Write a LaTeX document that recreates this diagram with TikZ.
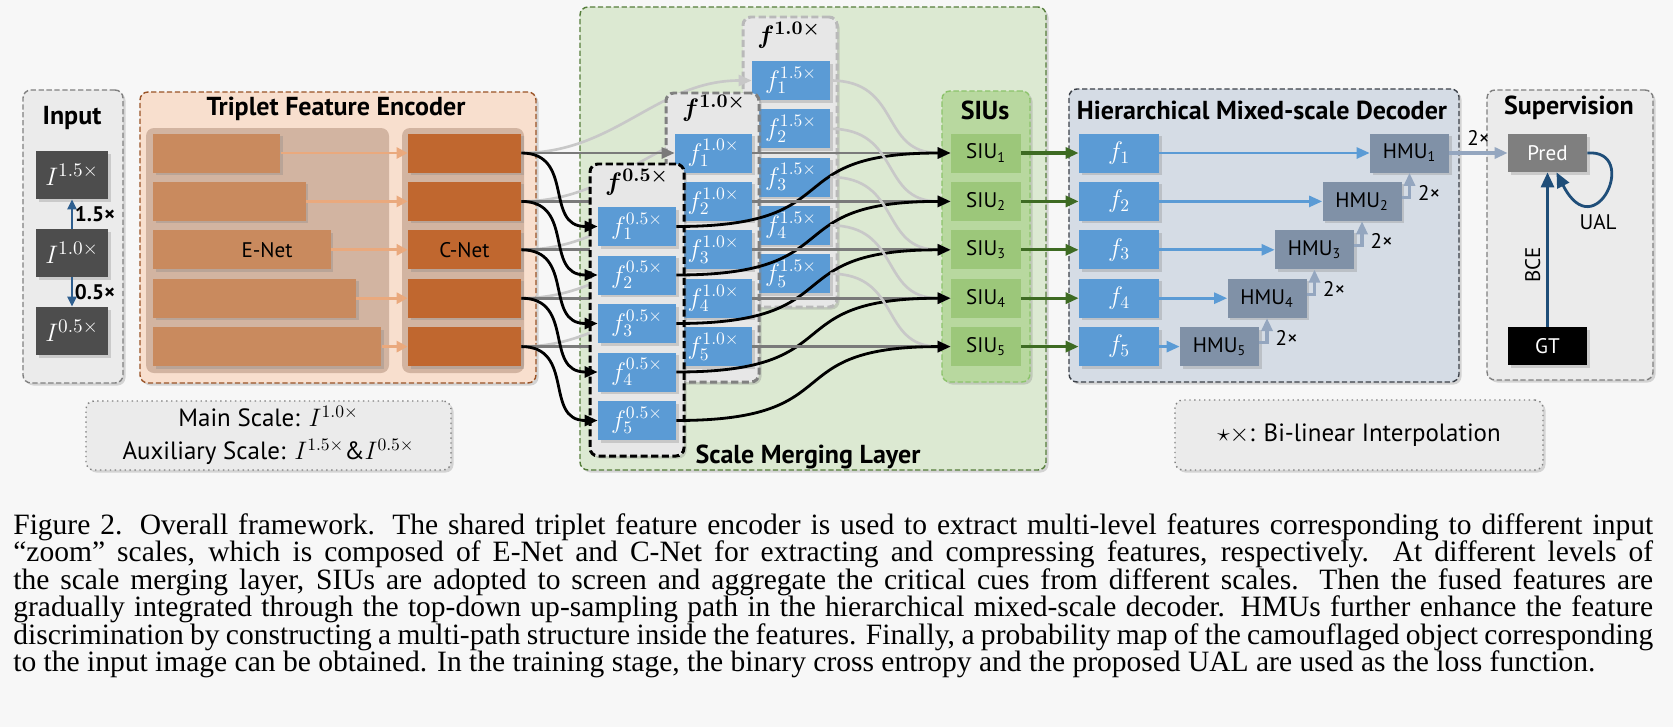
\documentclass[tikz,border=0pt]{standalone}
\usepackage{fontspec}
\setmainfont{Liberation Serif}
\setsansfont{PT Sans}
\usetikzlibrary{arrows.meta,shadows,positioning}

\definecolor{bgc}{HTML}{F7F7F7}
\definecolor{panelgray}{HTML}{EBEBEB}
\definecolor{inputdark}{HTML}{4D4D4D}
\definecolor{inarrow}{HTML}{2F5F8F}
\definecolor{encfill}{HTML}{F8DFCE}
\definecolor{encline}{HTML}{9A5326}
\definecolor{encinner}{HTML}{D2B4A1}
\definecolor{ebar}{HTML}{C98A5E}
\definecolor{cbar}{HTML}{C0672F}
\definecolor{ecarrow}{HTML}{EAA97D}
\definecolor{smlfill}{HTML}{DCE9D2}
\definecolor{smlline}{HTML}{557D3A}
\definecolor{featblue}{HTML}{5B9BD5}
\definecolor{colfill}{HTML}{E7E7E7}
\definecolor{midgray}{HTML}{7A7A7A}
\definecolor{palegray}{HTML}{C8C8C8}
\definecolor{siufill}{HTML}{B8D89F}
\definecolor{siuline}{HTML}{8CC36B}
\definecolor{siubox}{HTML}{9CC77A}
\definecolor{siuarrow}{HTML}{3E6B23}
\definecolor{decfill}{HTML}{D5DCE5}
\definecolor{decline}{HTML}{3B4048}
\definecolor{hmufill}{HTML}{8091A7}
\definecolor{uparrow}{HTML}{94A6BF}
\definecolor{predfill}{HTML}{7F7F7F}
\definecolor{lossblue}{HTML}{1F4E79}

\tikzset{
  sz/.style 2 args={minimum width=#1*0.02cm, minimum height=#2*0.02cm, inner sep=0pt},
  panel/.style 2 args={sz={#1}{#2}, rounded corners=0.16cm, line width=0.8pt, dash pattern=on 3pt off 1.5pt, soft},
  col/.style={line width=1.7pt, dash pattern=on 4pt off 2pt},
  note/.style 2 args={sz={#1}{#2}, rounded corners=0.16cm, line width=0.8pt, dotted, draw=gray, fill=panelgray, soft, align=center, font={\sffamily\fontsize{14.2}{16}\selectfont}},
  soft/.style={drop shadow={shadow xshift=0.05cm, shadow yshift=-0.05cm, opacity=0.3}},
  title/.style={font={\sffamily\bfseries\fontsize{14.8}{17}\selectfont}},
  lbl/.style={font={\sffamily\fontsize{12}{14}\selectfont}},
  head/.style={font={\fontsize{15}{17}\selectfont\boldmath}},
  img/.style={sz={72}{48}, fill=inputdark, text=white, soft, font={\fontsize{15}{17}\selectfont}},
  feat/.style={sz={78}{39}, fill=featblue, text=white, soft, font={\fontsize{14}{16}\selectfont}},
  siu/.style={sz={70}{39}, fill=siubox, lbl},
  hmu/.style={sz={79}{39}, fill=hmufill, soft, lbl},
  tip/.style={-{Triangle[length=0.26cm, width=0.22cm]}},
  inarr/.style={draw=inarrow, line width=1.4pt, -{Triangle[length=0.2cm, width=0.18cm]}},
  ecarr/.style={draw=ecarrow, line width=1.5pt, -{Triangle[length=0.22cm, width=0.22cm]}},
  midline/.style={draw=midgray, line width=1.5pt, tip},
  paleline/.style={draw=palegray, line width=1.5pt, tip},
  blkcurve/.style={draw=black, line width=1.6pt, tip},
  siuarr/.style={draw=siuarrow, line width=1.8pt, tip},
  decarr/.style={draw=featblue, line width=1.5pt, tip},
  uparr/.style={draw=uparrow, line width=1.8pt, tip},
  lossarr/.style={draw=lossblue, line width=1.6pt, -{Triangle[length=0.3cm, width=0.26cm]}}
}

\begin{document}
\begin{tikzpicture}[x=0.02cm, y=-0.02cm]

\useasboundingbox (0,0) rectangle (1673,727);
\fill[bgc] (0,0) rectangle (1673,727);

\node[panel={100}{293}, fill=panelgray, draw=gray] (inputbox) at (73,236.5) {};
\node[title] (inputtitle) at (72,118) {Input};
\node[img] (in15) at (72,175) {$I^{1.5\times}$};
\node[img] (in10) at (72,253) {$I^{1.0\times}$};
\node[img] (in05) at (72,331) {$I^{0.5\times}$};
\draw[inarr] (in10) -- node[lbl, font={\sffamily\bfseries\fontsize{12}{14}\selectfont}, right, inner sep=1pt] {1.5×} (in15);
\draw[inarr] (in10) -- node[lbl, font={\sffamily\bfseries\fontsize{12}{14}\selectfont}, right, inner sep=1pt] {0.5×} (in05);

\node[panel={396}{291}, fill=encfill, draw=encline] (encbox) at (338,237.5) {};
\node[title] (enctitle) at (336,109) {Triplet Feature Encoder};
\node[sz={243}{245}, fill=encinner, rounded corners=0.16cm] (epanel) at (267.5,250.5) {};
\node[sz={122}{245}, fill=encinner, rounded corners=0.16cm] (cpanel) at (463,250.5) {};
\foreach \i in {1,...,5}
{
    \pgfmathsetmacro\ry{153+48.4*(\i-1)}
    \pgfmathsetmacro\ew{127+25.25*(\i-1)}
    \node[sz={\ew}{39}, fill=ebar, soft, anchor=west] (enet_\i) at (153,\ry) {};
    \node[sz={113}{39}, fill=cbar, soft] (cnet_\i) at (464.5,\ry) {};
    \draw[ecarr] (enet_\i) -- (cnet_\i);
}
\node[lbl] (enetlabel) at (267,250) {E-Net};
\node[lbl] (cnetlabel) at (cnet_3) {C-Net};

\node[note={365}{69}] (scalenote) at (268.5,435.5) {Main Scale: $I^{1.0\times}$\\[3pt]Auxiliary Scale: $I^{1.5\times}$\&$I^{0.5\times}$};

\node[panel={466}{463}, fill=smlfill, draw=smlline] (smlbox) at (813,238.5) {};
\node[title] (smltitle) at (808,457) {Scale Merging Layer};

\node[panel={88}{291}, fill=siufill, draw=siuline] (siubox) at (986,236.5) {};
\node[title] (siutitle) at (985,110) {SIUs};
\foreach \i in {1,...,5}
{
    \pgfmathsetmacro\ry{153+48.4*(\i-1)}
    \node[siu] (siu_\i) at (986,\ry) {SIU\textsubscript{\i}};
}

\node[panel={94}{290}, fill=colfill, draw=gray!55, col] (col15) at (790,162) {};
\node[head] (head15) at (789,35) {$f^{1.0\times}$};
\foreach \i in {1,...,5}
{
    \pgfmathsetmacro\ry{80.5+48.3*(\i-1)}
    \node[feat] (onehalf_\i) at (791,\ry) {$f^{1.5\times}_{\i}$};
    \draw[paleline] (cnet_\i.east) to[out=0, in=180] (onehalf_\i.west);
}

\node[panel={93}{289}, fill=colfill, draw=gray, col] (col10) at (712.5,237.5) {};
\node[head] (head10) at (714,108) {$f^{1.0\times}$};
\foreach \i in {1,...,5}
{
    \pgfmathsetmacro\ry{153+48.4*(\i-1)}
    \node[feat, sz={77}{39}] (one_\i) at (713.5,\ry) {$f^{1.0\times}_{\i}$};
    \draw[midline] (cnet_\i) -- (one_\i);
}

\node[panel={94}{292}, fill=colfill, draw=black, col] (col05) at (637,310) {};
\node[head] (head05) at (637,182) {$f^{0.5\times}$};
\foreach \i in {1,...,5}
{
    \pgfmathsetmacro\ry{226.5+48.5*(\i-1)}
    \node[feat] (half_\i) at (637,\ry) {$f^{0.5\times}_{\i}$};
}

\foreach \i in {1,...,5}
{
    \draw[midline] (one_\i) -- (siu_\i);
    \draw[paleline] (onehalf_\i.east) to[out=0, in=180, looseness=1.3] (siu_\i.west);
    \draw[blkcurve] (cnet_\i.east) to[out=0, in=180, looseness=1.3] (half_\i.west);
    \draw[blkcurve] (half_\i.east) to[out=0, in=180, looseness=1.6] (siu_\i.west);
}

\node[panel={390}{293}, fill=decfill, draw=decline] (decbox) at (1264,235.5) {};
\node[title] (dectitle) at (1262,110) {Hierarchical Mixed-scale Decoder};
\foreach \i in {1,...,5}
{
    \pgfmathsetmacro\ry{153+48.4*(\i-1)}
    \pgfmathsetmacro\hx{1409.5-47.5*(\i-1)}
    \node[feat, sz={80}{39}] (dec_\i) at (1119,\ry) {$f_{\i}$};
    \node[hmu] (hmu_\i) at (\hx,\ry) {HMU\textsubscript{\i}};
    \draw[siuarr] (siu_\i) -- (dec_\i);
    \draw[decarr] (dec_\i) -- (hmu_\i);
}
\foreach \i/\j in {2/1,3/2,4/3,5/4}
    \draw[uparr] ([yshift=0.08cm]hmu_\i.east) -| node[lbl, pos=0.6, anchor=west, inner sep=4pt] {2×} (hmu_\j.south);

\node[panel={166}{290}, fill=panelgray, draw=gray] (supbox) at (1570,235) {};
\node[title] (suptitle) at (1569,108) {Supervision};
\node[sz={79}{38}, fill=predfill, text=white, soft, lbl] (pred) at (1547.5,153) {Pred};
\node[sz={79}{38}, fill=black, text=white, soft, lbl] (gt) at (1547.5,346) {GT};
\draw[uparr] (hmu_1) -- node[lbl, above] {2×} (pred);
\draw[lossarr] (gt) -- node[lbl, rotate=90, anchor=south, pos=0.4] {BCE} (pred);
\draw[lossarr] (pred.east) .. controls +(53,-4) and +(39,77) .. ([xshift=0.18cm]pred.south);
\node[lbl] (uallabel) at (1598,222) {UAL};

\node[note={368}{70}] (interpnote) at (1359,435) {$\star\times$: Bi-linear Interpolation};

\node[anchor=north west, inner sep=0pt, text width=32.8cm, align=justify] (caption) at (13,513) {\fontsize{16.8}{15.65}\selectfont\baselineskip=0.55cm\hyphenpenalty=10000 Figure 2.  Overall framework.  The shared triplet feature encoder is used to extract multi-level features corresponding to different input\linebreak
“zoom” scales, which is composed of E-Net and C-Net for extracting and compressing features, respectively.  At different levels of\linebreak
the scale merging layer, SIUs are adopted to screen and aggregate the critical cues from different scales.  Then the fused features are\linebreak
gradually integrated through the top-down up-sampling path in the hierarchical mixed-scale decoder.  HMUs further enhance the feature\linebreak
discrimination by constructing a multi-path structure inside the features. Finally, a probability map of the camouflaged object corresponding\linebreak
to the input image can be obtained. In the training stage, the binary cross entropy and the proposed UAL are used as the loss function.\par};

\end{tikzpicture}
\end{document}
